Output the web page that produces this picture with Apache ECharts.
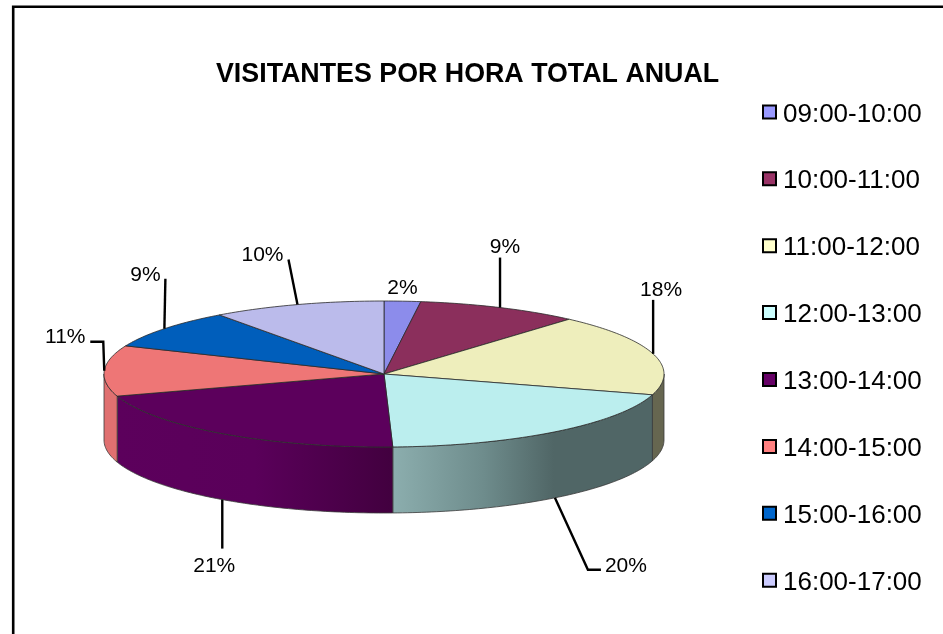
<!DOCTYPE html>
<html>
<head>
<meta charset="utf-8">
<style>html,body{margin:0;padding:0;background:#fff}#c{width:943px;height:634px}</style>
<script src="https://cdn.jsdelivr.net/npm/echarts@6/dist/echarts.min.js"></script>
</head>
<body>
<div id="c"></div>
<script>
const chartTitle = 'VISITANTES POR HORA TOTAL ANUAL';
const hours = ['09:00-10:00','10:00-11:00','11:00-12:00','12:00-13:00','13:00-14:00','14:00-15:00','15:00-16:00','16:00-17:00'];
const shares = [2.1, 9.4, 18.1, 19.9, 20.6, 11.2, 8.7, 10.0];

const legendColors = ['#9999FF','#993366','#FFFFCC','#CCFFFF','#660066','#FF8080','#0066CC','#CCCCFF'];
const topColors = ['#8C8CEB','#8B2F5C','#EEEEBC','#BBEEEE','#5C005C','#EE7676','#005EBB','#BBBBEB'];
const wallStops = [null, null,
  [[0,'#666650'],[1,'#666650']],
  [[0,'#8CAEAE'],[0.35,'#6E8C8C'],[0.62,'#506666'],[1,'#506666']],
  [[0,'#5C005C'],[0.5,'#5A005A'],[1,'#42003F']],
  [[0,'#E07070'],[1,'#E07070']],
  null, null];

const geo = {cx:384, cy:374, rx:280, ry:73, depth:66};
// leader bends and label centre relative to the point on the rim
const labelLayout = [
  {bends:[], text:[0,-13]},
  {bends:[[0,-50]], text:[5,-60]},
  {bends:[[0,-54]], text:[8,-64]},
  {bends:[[33,72],[46,72]], text:[71,68]},
  {bends:[[0,49]], text:[-8,67]},
  {bends:[[-1,-29],[-14,-29]], text:[-39,-34]},
  {bends:[[1,-50]], text:[-19,-54]},
  {bends:[[-9,-45]], text:[-35,-49]}
];

const total = shares.reduce((a,b)=>a+b,0);
const starts = [];
shares.reduce((acc,v,i)=>{starts[i]=acc;return acc+v;},0);
const toAngle = v => v/total*2*Math.PI;
const rim = (t,dy=0) => [geo.cx+geo.rx*Math.sin(t), geo.cy-geo.ry*Math.cos(t)+dy];
function arc(a,b,dy=0){
  const n = Math.max(2,Math.ceil(Math.abs(b-a)/(Math.PI/180)));
  const out=[];
  for(let k=0;k<=n;k++) out.push(rim(a+(b-a)*k/n,dy));
  return out;
}

function makeRender(i){
  return function(params, api){
    const a0 = toAngle(starts[i]);
    const a1 = a0 + toAngle(api.value(0));
    const children = [];
    // side wall: only the part of the rim facing the viewer
    const w0 = Math.max(a0, Math.PI/2), w1 = Math.min(a1, 3*Math.PI/2);
    if (w1 > w0 && wallStops[i]) {
      const pts = arc(w0,w1,0).concat(arc(w1,w0,geo.depth));
      children.push({type:'polygon', shape:{points:pts}, z2:1,
        style:{fill:new echarts.graphic.LinearGradient(0,0,1,0,
          wallStops[i].map(s=>({offset:s[0],color:s[1]}))), stroke:'#3a3a3a', lineWidth:0.8}});
    }
    // top face
    children.push({type:'polygon', z2:2,
      shape:{points:[[geo.cx,geo.cy]].concat(arc(a0,a1))},
      style:{fill:topColors[i], stroke:'#2a2a2a', lineWidth:0.8}});
    // leader and label
    const mid = (a0+a1)/2;
    const front = Math.cos(mid) < 0;
    const p = rim(mid, front ? geo.depth : 0);
    const lay = labelLayout[i];
    if (lay.bends.length) {
      children.push({type:'polyline', z2:3,
        shape:{points:[p].concat(lay.bends.map(b=>[p[0]+b[0],p[1]+b[1]]))},
        style:{fill:null, stroke:'#000', lineWidth:2.4}});
    }
    children.push({type:'text', z2:3, x:p[0]+lay.text[0], y:p[1]+lay.text[1],
      style:{text:Math.round(api.value(0)/total*100)+'%', fill:'#000',
        font:'21px "Liberation Sans", Arial, sans-serif', align:'center', verticalAlign:'middle'}});
    return {type:'group', children};
  };
}

const chart = echarts.init(document.getElementById('c'), null, {renderer:'canvas'});
chart.setOption({
  animation:false,
  backgroundColor:'#fff',
  title:{text:chartTitle, left:211, top:56.6,
    textStyle:{fontFamily:'"Liberation Sans", Arial, sans-serif', fontSize:26.8, fontWeight:'bold', color:'#000'}},
  legend:{orient:'vertical', left:757, top:96.4, itemWidth:13, itemHeight:13, itemGap:40.9, selectedMode:false,
    icon:'rect', data:hours,
    formatter:name=>'{a|'+name+'}{s| }',
    textStyle:{rich:{
      a:{fontFamily:'"Liberation Sans", Arial, sans-serif', fontSize:26, color:'#000', lineHeight:30, verticalAlign:'bottom', padding:[0,0,0,2]},
      s:{width:1, height:31, fontSize:1}
    }}},
  graphic:[{type:'rect', silent:true, z:0, shape:{x:13.2, y:6.7, width:1000, height:1000},
    style:{fill:null, stroke:'#000', lineWidth:2.6}}],
  series:hours.map((h,i)=>({
    type:'custom', name:h, coordinateSystem:'none', silent:true, z:2,
    itemStyle:{color:legendColors[i], borderColor:'#000', borderWidth:2.5},
    data:[[shares[i]]],
    renderItem:makeRender(i)
  }))
});
</script>
</body>
</html>
